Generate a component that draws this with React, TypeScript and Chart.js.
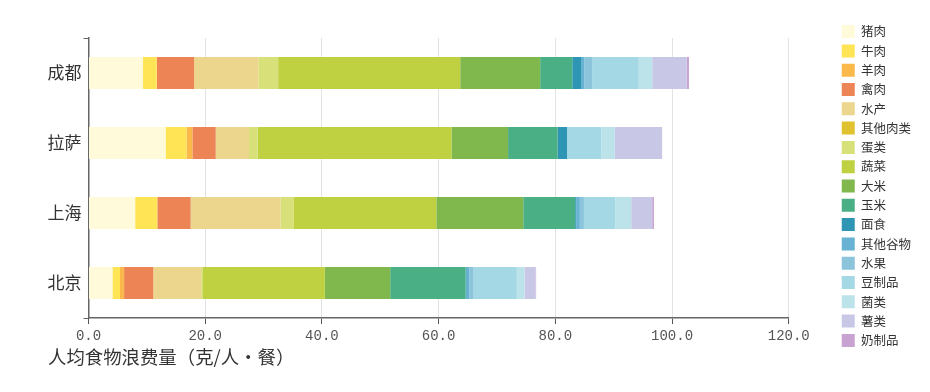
import React, { useEffect, useRef } from 'react';
import { Chart, registerables } from 'chart.js';

Chart.register(...registerables);

const cities = ['成都', '拉萨', '上海', '北京'];
const foodNames = ['猪肉', '牛肉', '羊肉', '禽肉', '水产', '其他肉类', '蛋类', '蔬菜', '大米', '玉米', '面食', '其他谷物', '水果', '豆制品', '菌类', '薯类', '奶制品'];
const foodColors = ['#fffad9', '#ffe455', '#fbb84b', '#ec8456', '#ecd58c', '#dfc22e', '#d8e07a', '#bfd141', '#80b84d', '#4baf85', '#2e95b4', '#68b3d4', '#8cc5db', '#a3d8e4', '#bde3ea', '#c8c8e6', '#c8a3d2'];

const pork = [9.3, 13.2, 8.0, 4.1];
const beef = [2.4, 3.6, 3.8, 1.3];
const mutton = [0, 1.0, 0, 0.7];
const poultry = [6.4, 4.0, 5.7, 5.0];
const aquatic = [11.0, 5.7, 15.4, 8.2];
const otherMeat = [0, 0, 0, 0];
const eggs = [3.4, 1.5, 2.3, 0.2];
const vegetables = [31.2, 33.2, 24.4, 21.0];
const rice = [13.7, 9.7, 14.9, 11.2];
const corn = [5.5, 8.5, 8.9, 12.9];
const wheat = [1.6, 1.6, 0.2, 0.2];
const otherGrains = [0.5, 0, 0.6, 0.5];
const fruit = [1.3, 0, 0.7, 0.7];
const soy = [8.0, 5.9, 5.4, 7.4];
const fungi = [2.3, 2.3, 2.7, 1.3];
const tubers = [5.9, 8.1, 3.6, 1.9];
const dairy = [0.4, 0, 0.3, 0.1];

const seriesValues = [pork, beef, mutton, poultry, aquatic, otherMeat, eggs, vegetables, rice, corn, wheat, otherGrains, fruit, soy, fungi, tubers, dairy];

const xMin = 0;
const xMax = 120;
const xStep = 20;
const axisTitle = '人均食物浪费量（克/人·餐）';

const CJK = '"Noto Sans CJK SC", "Noto Sans", sans-serif';

const axisTitlePlugin = {
  id: 'axisTitleLeft',
  afterDraw(chart: any) {
    const { ctx, chartArea } = chart;
    ctx.save();
    ctx.font = `18.4px ${CJK}`;
    ctx.fillStyle = '#333';
    ctx.textAlign = 'left';
    ctx.textBaseline = 'middle';
    ctx.fillText(axisTitle, 40, chartArea.bottom + 39);
    ctx.restore();
  },
};

export default function App() {
  const canvasRef = useRef<HTMLCanvasElement | null>(null);

  useEffect(() => {
    if (!canvasRef.current) return;
    const chart = new Chart(canvasRef.current, {
      type: 'bar',
      data: {
        labels: cities,
        datasets: foodNames.map((name, i) => ({
          label: name,
          data: seriesValues[i],
          backgroundColor: foodColors[i],
          borderWidth: 0,
          categoryPercentage: 1,
          barPercentage: 0.46,
        })),
      },
      options: {
        indexAxis: 'y',
        responsive: false,
        animation: false,
        layout: { padding: { top: 0, right: 1, bottom: 20, left: 0 } },
        plugins: {
          tooltip: { enabled: false },
          legend: {
            position: 'right',
            align: 'center',
            labels: {
              boxWidth: 13,
              boxHeight: 13,
              padding: 6.3,
              color: '#333',
              font: { size: 12.5, family: CJK },
            },
          },
        },
        scales: {
          x: {
            stacked: true,
            min: xMin,
            max: xMax,
            afterFit: (scale: any) => {
              scale.height = 46;
            },
            ticks: {
              stepSize: xStep,
              color: '#555',
              padding: 4,
              font: { size: 14, family: '"Liberation Mono", monospace' },
              callback: (v: any) => Number(v).toFixed(1),
            },
            grid: {
              color: '#e3e3e3',
              lineWidth: 1,
              tickColor: '#555',
              tickLength: 6,
            },
            border: { display: true, color: '#666', width: 1.5 },
          },
          y: {
            stacked: true,
            afterFit: (scale: any) => {
              scale.width = 80.5;
              scale.paddingTop = 30;
            },
            ticks: {
              color: '#333',
              padding: 2,
              font: { size: 17, family: CJK },
            },
            grid: {
              display: true,
              drawOnChartArea: false,
              drawTicks: true,
              tickLength: 5,
              offset: true,
              color: (ctx: any) =>
                ctx.index === 0 || ctx.index === undefined || ctx.index >= cities.length ? '#666' : 'rgba(0,0,0,0)',
            },
            border: { display: true, color: '#666', width: 1.5 },
          },
          gap: {
            type: 'linear',
            position: 'right',
            display: true,
            grid: { display: false },
            ticks: { display: false },
            border: { display: false },
            afterFit: (scale: any) => {
              scale.width = 46.7;
            },
          },
        },
      },
      plugins: [axisTitlePlugin],
    });
    return () => chart.destroy();
  }, []);

  return (
    <div style={{ width: 914, height: 376 }}>
      <canvas ref={canvasRef} width={914} height={376} style={{ display: 'block' }} />
    </div>
  );
}
